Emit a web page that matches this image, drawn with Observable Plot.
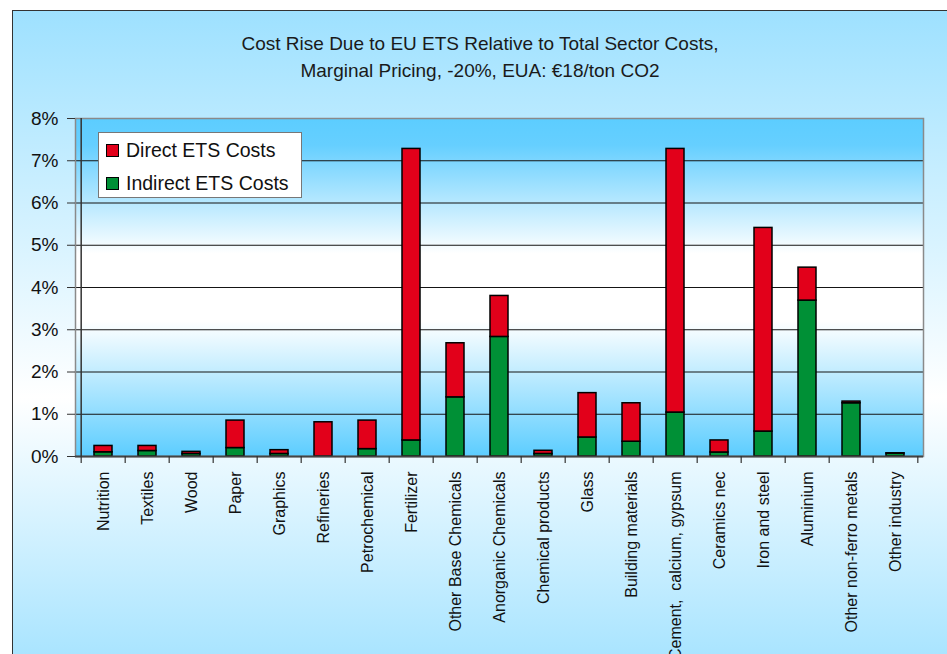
<!DOCTYPE html>
<html>
<head>
<meta charset="utf-8">
<script src="https://cdn.jsdelivr.net/npm/d3@7"></script>
<script src="https://cdn.jsdelivr.net/npm/@observablehq/plot@0.6"></script>
<style>
  html, body { margin: 0; padding: 0; background: #ffffff; overflow: hidden; }
  body { width: 947px; height: 654px; position: relative; font-family: "Liberation Sans", Arial, sans-serif; }
  #outer {
    position: absolute; left: 12px; top: 10px; width: 980px; height: 680px;
    border: 1.5px solid #333; box-sizing: border-box;
    background: linear-gradient(to bottom, #9ee1ff 0%, #ffffff 57%, #9ee1ff 100%);
  }
  #chart { position: absolute; left: 0; top: 0; }
  .title { position: absolute; left: 0; width: 960px; text-align: center; font-size: 19px; line-height: 27px; color: #1a1a1a; white-space: nowrap; }
  #legend {
    position: absolute; left: 98px; top: 132px; width: 204px; height: 66px; box-sizing: border-box;
    background: #fff; border: 1.2px solid #777;
  }
  .sw { position: absolute; left: 7px; width: 13px; height: 13px; box-sizing: border-box; border: 1.2px solid #000; }
  .lt { position: absolute; left: 27px; font-size: 19.5px; line-height: 20px; color: #111; white-space: nowrap; }
</style>
</head>
<body>
<div id="outer"></div>
<div id="chart"></div>
<div class="title" style="top:30px">Cost Rise Due to EU ETS Relative to Total Sector Costs,</div>
<div class="title" style="top:57px">Marginal Pricing, -20%, EUA: €18/ton CO2</div>
<div id="legend"></div>
<script>
// ---- data (percent of total sector costs) ----
const sectors = [
  "Nutrition", "Textiles", "Wood", "Paper", "Graphics", "Refineries", "Petrochemical",
  "Fertilizer", "Other Base Chemicals", "Anorganic Chemicals", "Chemical products", "Glass",
  "Building materials", "Cement,  calcium, gypsum", "Ceramics nec", "Iron and steel",
  "Aluminium", "Other non-ferro metals", "Other industry"
];
const indirectCosts = [0.10, 0.13, 0.06, 0.20, 0.06, 0.00, 0.175, 0.38, 1.40, 2.83, 0.06, 0.45, 0.35, 1.04, 0.095, 0.59, 3.69, 1.26, 0.07];
const directCosts   = [0.15, 0.12, 0.05, 0.65, 0.09, 0.81, 0.675, 6.90, 1.28, 0.97, 0.075, 1.05, 0.91, 6.24, 0.285, 4.82, 0.78, 0.04, 0.005];
const seriesNames = ["Direct ETS Costs", "Indirect ETS Costs"];
const seriesColors = ["#e2001a", "#009036"];
const yTicks = [0, 1, 2, 3, 4, 5, 6, 7, 8];

// ---- build table ----
const rows = [];
sectors.forEach((s, i) => {
  rows.push({sector: s, series: seriesNames[1], value: indirectCosts[i]});
  rows.push({sector: s, series: seriesNames[0], value: directCosts[i]});
});

const W = 947, H = 654, mL = 75, mR = 24, mT = 118, mB = 198;
const step = (W - mL - mR) / sectors.length;
const plotH = H - mT - mB;

const svg = Plot.plot({
  width: W, height: H,
  marginLeft: mL, marginRight: mR, marginTop: mT, marginBottom: mB,
  style: {background: "transparent", fontFamily: "'Liberation Sans', Arial, sans-serif", color: "#111", overflow: "visible"},
  x: {domain: sectors, paddingInner: 0.59, paddingOuter: 0.295, axis: null},
  y: {domain: [0, 8], axis: null},
  color: {domain: seriesNames, range: seriesColors},
  marks: [
    Plot.frame({fill: "url(#plotBg)", stroke: "none"}),
    Plot.gridY(yTicks.filter(v => v > 0 && v < 8), {stroke: "#151515", strokeOpacity: 1, strokeWidth: 1.2}),
    Plot.frame({stroke: "#8a8a8a", strokeWidth: 1.5}),
    Plot.barY(rows, Plot.stackY({x: "sector", y: "value", fill: "series", stroke: "#000", strokeWidth: 1.5})),
    Plot.ruleY([0], {stroke: "#444", strokeWidth: 2}),
    Plot.ruleX([sectors[0]], {dx: -step / 2, stroke: "#333", strokeWidth: 1.5}),
    Plot.ruleX(sectors, {dx: -step / 2, stroke: "#333", strokeWidth: 1.2, insetTop: plotH, insetBottom: -7}),
    Plot.ruleX([sectors[sectors.length - 1]], {dx: step / 2, stroke: "#333", strokeWidth: 1.2, insetTop: plotH, insetBottom: -7}),
    Plot.axisY({ticks: yTicks, tickFormat: d => d + "%", tickSize: 8, tickPadding: 9, fontSize: 19, anchor: "left", label: null, stroke: "#333"}),
    Plot.axisX({tickSize: 0, tickRotate: -90, tickPadding: 15, fontSize: 16, label: null, anchor: "bottom"})
  ]
});

// gradient definitions for the plot background
const defs = d3.select(svg).insert("defs", ":first-child");
const g = defs.append("linearGradient").attr("id", "plotBg").attr("x1", 0).attr("y1", 0).attr("x2", 0).attr("y2", 1);
[[0, "#5ccdff"], [0.08, "#66cfff"], [0.40, "#ffffff"], [0.60, "#ffffff"], [1, "#5ccdff"]]
  .forEach(([o, c]) => g.append("stop").attr("offset", o).attr("stop-color", c));

document.getElementById("chart").appendChild(svg);

// legend
const legend = document.getElementById("legend");
seriesNames.forEach((name, i) => {
  const sw = document.createElement("div");
  sw.className = "sw";
  sw.style.top = (11 + i * 33) + "px";
  sw.style.background = seriesColors[i];
  legend.appendChild(sw);
  const t = document.createElement("div");
  t.className = "lt";
  t.style.top = (7 + i * 32.5) + "px";
  t.textContent = name;
  legend.appendChild(t);
});
</script>
</body>
</html>
